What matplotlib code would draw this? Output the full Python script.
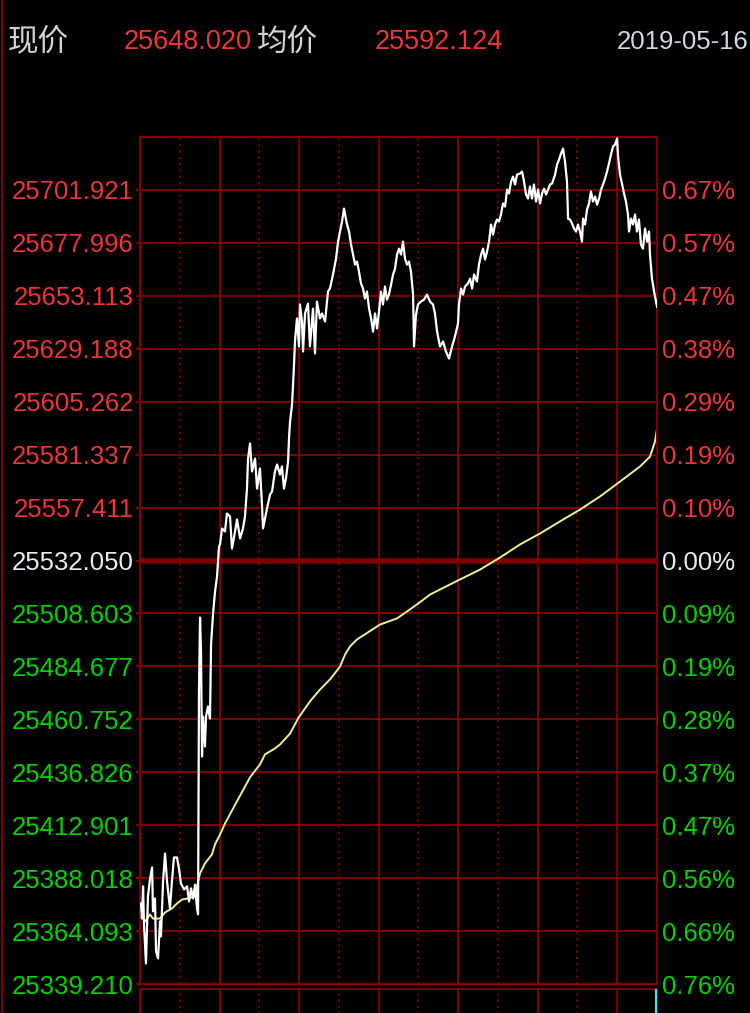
import numpy as np
import matplotlib
matplotlib.use('Agg')
import matplotlib.pyplot as plt
from matplotlib.lines import Line2D

plt.rcParams['font.family'] = ['Liberation Sans', 'Noto Sans CJK SC', 'DejaVu Sans']

# intraday minutes (0 = open, 390 = close) and prices
price_t = [0.8, 1.5, 2.3, 3.0, 4.5, 6.0, 7.5, 9.1, 9.8, 11.3, 12.1, 13.6, 15.1, 15.8, 17.4,
           18.9, 20.4, 22.6, 24.1, 25.6, 27.9, 29.4, 30.9, 33.2, 35.5, 37.0, 38.5, 40.0, 41.5,
           43.0, 43.8, 44.5, 45.3, 46.0, 46.8, 47.5, 49.0, 49.8, 51.3, 52.8, 53.6, 55.1, 56.6,
           58.1, 59.6, 60.4, 61.9, 64.1, 65.6, 67.9, 69.4, 71.7, 73.2, 75.5, 77.7, 79.2, 80.7,
           81.5, 83.0, 84.5, 86.8, 88.3, 90.5, 92.0, 92.8, 94.3, 95.8, 98.1, 99.6, 101.8, 103.4,
           105.6, 107.1, 108.6, 110.1, 111.7, 112.4, 113.2, 114.7, 116.2, 116.9, 118.4, 119.9,
           120.7, 122.2, 123.0, 124.5, 126.7, 128.2, 130.5, 132.0, 133.5, 135.8, 137.3, 139.6,
           141.8, 143.3, 145.6, 147.9, 149.4, 150.9, 152.4, 153.9, 154.7, 156.2, 157.7, 159.2,
           160.7, 162.2, 163.7, 165.2, 166.7, 168.2, 169.7, 171.2, 172.8, 174.3, 175.8, 177.3,
           178.8, 180.3, 181.8, 183.3, 184.8, 186.3, 187.8, 189.4, 190.9, 192.4, 193.9, 195.4,
           196.9, 198.4, 199.9, 201.4, 202.9, 204.4, 206.0, 206.7, 208.2, 209.7, 211.9, 214.2,
           216.5, 218.8, 221.0, 222.5, 224.1, 226.3, 228.6, 230.8, 233.1, 235.4, 237.6, 239.9,
           240.6, 242.2, 243.7, 245.2, 247.4, 249.0, 250.5, 252.0, 254.2, 255.7, 257.3, 258.8,
           260.3, 261.8, 263.3, 264.8, 266.3, 267.8, 269.3, 270.8, 272.3, 273.8, 275.4, 276.9,
           278.4, 279.9, 281.4, 282.9, 284.4, 286.7, 288.2, 289.7, 291.2, 292.7, 294.2, 295.7,
           297.2, 298.7, 300.3, 301.8, 303.3, 304.8, 306.3, 307.8, 309.3, 310.8, 313.1, 314.6,
           316.1, 317.6, 319.1, 320.6, 322.1, 322.9, 324.4, 325.9, 327.4, 328.9, 330.4, 331.9,
           333.4, 334.2, 335.7, 337.2, 338.7, 340.2, 341.7, 343.3, 344.8, 346.3, 347.8, 349.3,
           350.8, 352.3, 353.8, 355.3, 356.8, 358.3, 359.9, 360.6, 362.1, 363.6, 365.1, 366.6,
           368.1, 368.9, 370.4, 371.9, 373.4, 374.9, 376.4, 377.9, 379.4, 381.0, 382.5, 384.0,
           384.7, 386.2, 387.8, 389.3, 390.0]
price = [25375.4, 25368.5, 25383.2, 25365.8, 25348.0, 25378.6, 25386.4, 25391.9, 25371.8, 25377.7,
         25353.5, 25350.3, 25367.2, 25360.3, 25385.5, 25398.2, 25385.5, 25373.1, 25385.5, 25396.4,
         25396.4, 25391.4, 25384.5, 25381.8, 25383.2, 25376.3, 25382.3, 25377.7, 25384.0, 25373.1,
         25370.4, 25473.6, 25506.0, 25490.5, 25442.5, 25460.8, 25447.1, 25460.8, 25465.4, 25459.9,
         25493.7, 25507.8, 25517.9, 25524.7, 25538.4, 25539.4, 25546.7, 25545.3, 25553.5, 25552.2,
         25537.5, 25545.3, 25550.8, 25542.1, 25546.7, 25552.2, 25564.9, 25578.6, 25585.5, 25572.7,
         25578.6, 25564.9, 25574.1, 25557.6, 25546.7, 25551.2, 25555.8, 25562.2, 25563.6, 25572.7,
         25575.9, 25571.3, 25575.0, 25564.9, 25569.5, 25577.3, 25587.8, 25595.5, 25603.3, 25621.6,
         25632.1, 25642.6, 25629.8, 25649.0, 25641.2, 25627.5, 25644.9, 25649.4, 25629.8, 25647.1,
         25626.6, 25650.3, 25642.6, 25644.9, 25641.2, 25654.9, 25656.3, 25662.7, 25670.0, 25677.7,
         25682.3, 25686.9, 25692.8, 25690.1, 25685.5, 25682.3, 25676.4, 25671.8, 25667.2, 25668.6,
         25664.0, 25658.6, 25656.3, 25651.7, 25654.9, 25647.1, 25642.6, 25636.6, 25644.9, 25638.0,
         25645.8, 25654.9, 25649.0, 25657.2, 25651.2, 25653.5, 25658.1, 25662.7, 25665.4, 25671.8,
         25674.5, 25671.8, 25677.7, 25670.0, 25667.2, 25668.6, 25664.0, 25653.5, 25629.8, 25644.4,
         25649.0, 25650.3, 25651.2, 25653.5, 25650.3, 25649.0, 25644.9, 25636.6, 25629.8, 25632.1,
         25627.5, 25624.3, 25629.8, 25634.4, 25640.3, 25649.0, 25656.3, 25653.5, 25657.2, 25658.6,
         25660.8, 25656.3, 25662.7, 25659.5, 25667.2, 25671.8, 25674.5, 25669.5, 25673.2, 25677.7,
         25685.5, 25680.9, 25685.5, 25687.8, 25686.9, 25690.1, 25695.1, 25693.7, 25701.5, 25699.7,
         25705.1, 25707.4, 25703.8, 25708.3, 25708.8, 25709.7, 25705.1, 25699.2, 25697.4, 25702.9,
         25697.4, 25703.8, 25696.0, 25701.5, 25695.1, 25699.7, 25701.9, 25699.2, 25701.5, 25703.8,
         25704.2, 25708.3, 25712.9, 25715.2, 25717.9, 25720.2, 25714.3, 25705.1, 25688.2, 25687.8,
         25686.0, 25683.7, 25682.3, 25685.5, 25682.3, 25677.7, 25688.2, 25685.5, 25692.3, 25695.1,
         25700.6, 25696.0, 25698.3, 25694.6, 25697.4, 25701.5, 25703.8, 25706.5, 25709.7, 25713.4,
         25717.5, 25721.1, 25722.0, 25724.8, 25716.6, 25708.3, 25704.2, 25699.7, 25696.0, 25690.1,
         25682.3, 25688.2, 25685.5, 25690.1, 25682.3, 25687.8, 25676.4, 25674.5, 25683.7, 25677.7,
         25682.3, 25671.8, 25660.8, 25654.9, 25650.3, 25648.0]

avg_t = [3.8, 7.5, 9.8, 15.1, 18.9, 24.1, 27.9, 31.7, 36.2, 41.5, 43.8, 45.3, 49.0, 54.3, 56.6,
         60.4, 64.1, 73.9, 83.0, 90.5, 94.3, 101.8, 105.6, 113.2, 116.9, 119.2, 128.2, 135.8,
         143.3, 150.9, 154.7, 158.4, 163.7, 181.1, 193.9, 209.0, 218.8, 226.3, 241.4, 256.5,
         271.6, 286.7, 301.8, 316.8, 331.9, 347.0, 362.1, 377.2, 384.7, 388.5, 390.0]
avg_price = [25367.2, 25370.4, 25368.5, 25368.5, 25371.3, 25373.1, 25375.4, 25377.2, 25377.7,
             25378.6, 25385.5, 25389.1, 25393.7, 25397.8, 25402.4, 25406.9, 25411.9, 25422.9,
             25433.0, 25438.9, 25443.5, 25446.2, 25448.0, 25453.0, 25457.2, 25459.9, 25467.7,
             25473.1, 25477.7, 25483.6, 25489.1, 25492.8, 25496.0, 25502.8, 25505.6, 25512.0,
             25516.5, 25518.8, 25523.4, 25527.9, 25533.4, 25539.4, 25544.4, 25549.9, 25555.3,
             25561.3, 25568.1, 25575.0, 25579.5, 25586.4, 25592.1]

prev_close = 25532.05
grid_step = 24.18

left_labels = ['25701.921', '25677.996', '25653.113', '25629.188', '25605.262', '25581.337',
               '25557.411', '25532.050', '25508.603', '25484.677', '25460.752', '25436.826',
               '25412.901', '25388.018', '25364.093', '25339.210']
right_labels = ['0.67%', '0.57%', '0.47%', '0.38%', '0.29%', '0.19%', '0.10%', '0.00%',
                '0.09%', '0.19%', '0.28%', '0.37%', '0.47%', '0.56%', '0.66%', '0.76%']

# last-minute volume bar shown in the lower panel
close_vol_t = [389.0]
close_vol = [1.0]

RED = '#f03434'
GREEN = '#00d400'
WHITE = '#e6ecf5'
GRID = '#800000'

W, H = 750, 1013
fig = plt.figure(figsize=(W / 100, H / 100), dpi=100, facecolor='black')

left, right, top, bottom = 140, 657, 137, 984
ax = fig.add_axes([left / W, 1 - bottom / H, (right - left) / W, (bottom - top) / H])
ax.set_facecolor('black')

ylo = prev_close - 8 * grid_step
yhi = prev_close + 8 * grid_step
ax.set_xlim(0, 390)
ax.set_ylim(ylo, yhi)

levels = np.linspace(ylo, yhi, 17)
for i, lv in enumerate(levels[1:-1]):
    lw = 4 if i == 7 else 1.4
    ax.axhline(lv, color=GRID, lw=lw, zorder=1)
for m in range(60, 390, 60):
    ax.axvline(m, color=GRID, lw=1.4, zorder=1)
for m in range(30, 390, 60):
    ax.axvline(m, color=GRID, lw=1.5, ls=(0, (1, 2)), zorder=1)

ax.plot(price_t, price, color='white', lw=1.6, zorder=3)
ax.plot(avg_t, avg_price, color='#f2f28a', lw=1.4, zorder=2)

for s in ax.spines.values():
    s.set_color(GRID)
    s.set_linewidth(1.5)

ticks = levels[:16][::-1]
ax.set_xticks([])
ax.set_yticks(ticks)
ax.set_yticklabels(left_labels, fontsize=18.5)
ax.tick_params(axis='y', length=3, width=1.5, color=GRID, pad=1.5)

ax_r = ax.twinx()
ax_r.set_ylim(ylo, yhi)
ax_r.set_yticks(ticks)
ax_r.set_yticklabels(right_labels, fontsize=18.5)
ax_r.tick_params(axis='y', length=0, pad=3.5)
for s in ax_r.spines.values():
    s.set_visible(False)

for axis_obj in (ax, ax_r):
    for i, lab in enumerate(axis_obj.get_yticklabels()):
        if i < 7:
            lab.set_color(RED)
        elif i == 7:
            lab.set_color(WHITE)
        else:
            lab.set_color(GREEN)

# lower (volume) panel, mostly cut off
ax2 = fig.add_axes([left / W, -0.03, (right - left) / W, 0.03 + 1 - 989 / H])
ax2.set_facecolor('black')
ax2.set_xlim(0, 390)
ax2.set_ylim(0, 1)
for m in range(60, 390, 60):
    ax2.axvline(m, color=GRID, lw=1.4)
for m in range(30, 390, 60):
    ax2.axvline(m, color=GRID, lw=1.5, ls=(0, (1, 2)))
for k, s in ax2.spines.items():
    s.set_color(GRID)
    s.set_linewidth(1.5)
ax2.spines['bottom'].set_visible(False)
ax2.vlines(close_vol_t, 0, close_vol, color='#40e0f0', lw=1.6, zorder=5)
ax2.set_xticks([])
ax2.set_yticks([])

# header
hy = 1 - 42 / H
fig.text(8 / W, hy, '现价', color='#d4d4d4', fontsize=22, va='center',
         family=['Noto Sans CJK SC', 'DejaVu Sans'])
fig.text(124 / W, hy, '25648.020', color=RED, fontsize=19.5, va='center')
fig.text(257 / W, hy, '均价', color='#d4d4d4', fontsize=22, va='center',
         family=['Noto Sans CJK SC', 'DejaVu Sans'])
fig.text(375 / W, hy, '25592.124', color=RED, fontsize=19.5, va='center')
fig.text(748 / W, hy, '2019-05-16', color='#d0d8e6', fontsize=18.5, va='center', ha='right')

fig.add_artist(Line2D([1.5 / W, 1.5 / W], [0, 1], color=GRID, lw=1.5))

fig.savefig('out.png', dpi=100, facecolor='black')
